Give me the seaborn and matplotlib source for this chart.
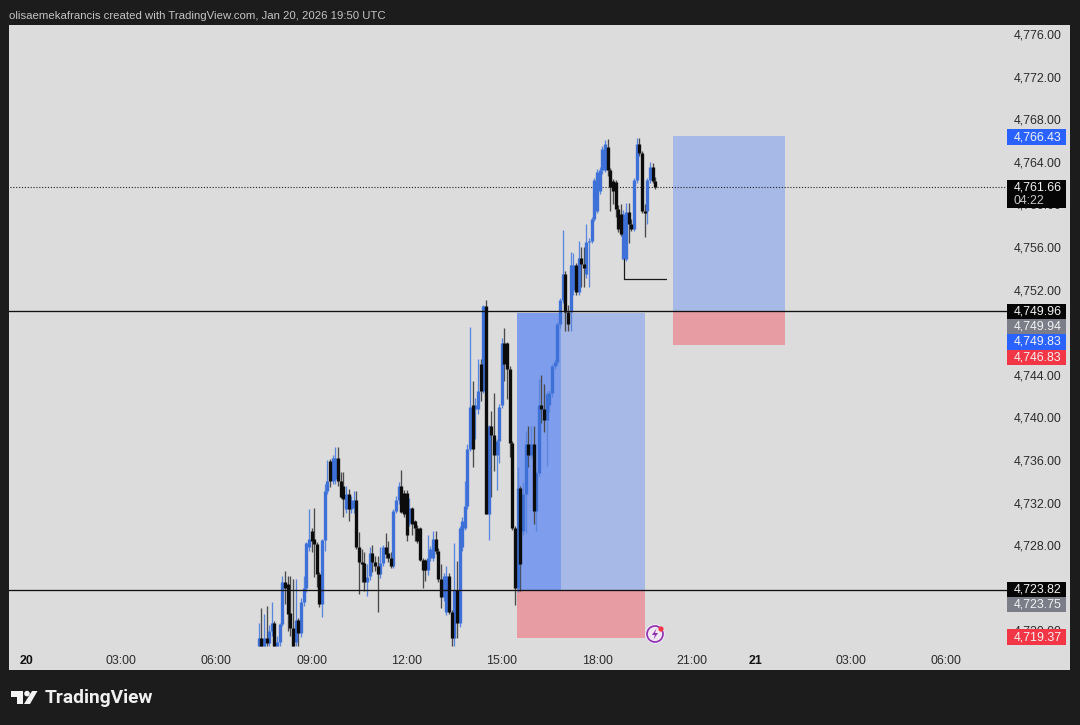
import numpy as np
import pandas as pd
import seaborn as sns
from matplotlib import pyplot as plt
from matplotlib.patches import Circle, Polygon, Rectangle
from matplotlib.transforms import Affine2D

# 5 minute XAUUSD style bars, first bar 07:20
first_bar = '2026-01-20 07:20'
opens = [4718.5,4719.3,4718.5,4719.3,4718.8,4719.9,4720.7,4718.5,4718.9,4720.6,
         4724.5,4724.4,4721.6,4720.2,4718.9,4721.0,4719.8,4722.7,4724.0,4727.8,
         4729.3,4728.6,4728.1,4725.3,4722.5,4728.5,4733.1,4735.9,4734.0,4734.2,
         4736.2,4734.0,4733.6,4731.4,4732.8,4731.4,4731.5,4732.2,4727.8,4726.4,
         4726.3,4724.5,4725.1,4727.3,4726.4,4726.0,4725.3,4726.3,4727.8,4727.3,
         4726.8,4726.0,4731.2,4732.2,4733.6,4732.9,4732.9,4730.1,4731.5,4730.3,
         4729.6,4729.6,4726.6,4726.6,4725.7,4726.8,4726.8,4728.6,4727.5,4724.8,
         4723.1,4721.7,4725.1,4721.7,4719.3,4723.8,4720.7,4727.8,4729.6,4731.7,
         4737.0,4741.2,4740.8,4740.8,4745.0,4742.5,4750.5,4730.9,4739.2,4738.3,
         4736.5,4737.8,4741.2,4747.0,4747.0,4744.5,4737.6,4729.6,4724.0,4733.4,
         4729.3,4732.8,4737.5,4736.5,4737.5,4731.2,4734.8,4741.2,4740.8,4739.8,
         4741.2,4742.3,4744.8,4745.2,4748.8,4751.0,4753.5,4749.9,4749.9,4752.0,
         4754.3,4751.8,4755.0,4754.4,4753.5,4756.5,4756.6,4758.6,4759.4,4761.3,
         4763.2,4763.2,4765.4,4763.2,4762.2,4762.1,4759.6,4759.1,4754.9,4754.9,
         4759.3,4758.2,4757.7,4762.3,4765.7,4764.8,4759.4,4759.4,4762.3,4763.5,
         4762.2]
highs = [4720.7,4722.1,4721.5,4722.3,4720.5,4722.7,4720.9,4719.5,4720.7,4725.1,
         4725.6,4725.1,4725.1,4724.8,4724.8,4721.2,4723.0,4725.1,4728.3,4731.4,
         4729.6,4731.5,4728.3,4725.5,4728.6,4733.7,4736.0,4736.1,4736.5,4737.2,
         4737.2,4734.9,4734.9,4733.6,4733.3,4732.6,4733.1,4733.1,4729.2,4727.6,
         4727.4,4726.2,4727.8,4728.0,4727.0,4727.0,4727.8,4728.0,4729.1,4728.4,
         4727.4,4731.4,4732.6,4733.9,4735.1,4733.2,4733.2,4732.4,4731.6,4730.4,
         4729.9,4729.7,4726.8,4726.7,4729.0,4727.9,4729.3,4729.3,4727.7,4726.2,
         4725.4,4726.0,4725.4,4721.9,4728.2,4726.5,4729.8,4730.6,4734.0,4737.5,
         4748.5,4743.4,4741.8,4745.5,4745.5,4750.6,4751.0,4739.3,4740.6,4742.3,
         4738.0,4741.3,4747.5,4748.4,4747.1,4744.8,4737.8,4729.8,4735.3,4733.6,
         4733.9,4738.7,4739.2,4739.2,4739.2,4735.0,4743.6,4744.0,4743.1,4742.5,
         4742.6,4745.0,4745.5,4749.0,4751.2,4757.6,4753.7,4750.6,4755.5,4755.4,
         4754.5,4756.6,4756.0,4756.0,4758.2,4756.8,4758.8,4762.5,4763.3,4763.5,
         4765.5,4766.0,4766.1,4763.4,4762.4,4762.3,4759.9,4760.0,4759.5,4760.1,
         4760.1,4758.6,4762.5,4766.2,4766.2,4765.0,4760.0,4762.5,4764.0,4763.9,
         4762.6]
lows = [4718.5,4718.5,4718.5,4718.5,4718.5,4719.5,4718.5,4718.5,4718.5,4720.4,
        4722.5,4719.9,4719.5,4718.5,4718.5,4718.5,4719.4,4722.3,4723.6,4727.5,
        4727.4,4725.0,4724.1,4722.2,4721.3,4727.5,4732.8,4733.5,4733.7,4733.7,
        4733.6,4732.4,4730.6,4731.0,4730.3,4731.0,4731.0,4727.6,4723.4,4724.5,
        4723.7,4723.2,4724.7,4725.5,4725.6,4721.7,4724.9,4726.0,4726.8,4726.4,
        4725.9,4725.9,4731.0,4731.9,4731.0,4730.6,4728.4,4729.8,4729.0,4728.4,
        4728.2,4726.5,4724.0,4724.6,4725.2,4726.5,4726.5,4727.2,4724.5,4722.1,
        4722.8,4721.4,4721.5,4718.5,4718.5,4719.3,4720.3,4727.5,4729.4,4731.4,
        4736.8,4735.3,4738.0,4740.3,4741.5,4742.3,4730.9,4728.5,4732.5,4735.0,
        4733.2,4735.7,4740.9,4743.4,4741.7,4736.3,4729.4,4722.4,4723.6,4723.7,
        4729.0,4729.1,4735.3,4736.2,4730.0,4729.3,4734.5,4739.5,4738.6,4735.4,
        4740.5,4741.9,4744.5,4744.9,4748.4,4750.7,4748.1,4748.1,4748.1,4751.5,
        4751.5,4751.5,4752.2,4752.2,4753.1,4752.2,4756.4,4758.4,4759.2,4761.0,
        4762.9,4763.0,4762.7,4759.4,4760.0,4758.8,4757.4,4757.0,4754.9,4754.7,
        4756.4,4757.5,4757.5,4762.0,4764.5,4759.2,4756.9,4758.2,4762.0,4762.0,
        4761.4]
closes = [4719.3,4718.5,4719.3,4718.8,4719.9,4720.7,4718.5,4718.9,4720.6,4724.5,
          4724.0,4721.5,4720.2,4718.5,4721.0,4719.8,4722.7,4724.0,4728.2,4728.6,
          4728.4,4728.1,4725.3,4722.5,4728.5,4733.1,4734.0,4734.0,4736.2,4736.2,
          4734.0,4732.5,4732.3,4732.8,4731.4,4732.2,4732.2,4727.8,4726.4,4726.2,
          4724.5,4725.0,4727.3,4726.4,4726.0,4725.3,4726.3,4727.8,4727.2,4726.8,
          4726.0,4731.2,4732.2,4733.6,4731.1,4730.9,4729.0,4731.5,4730.0,4729.6,
          4728.4,4726.6,4725.7,4725.7,4726.8,4727.6,4728.6,4727.5,4724.8,4723.1,
          4725.1,4725.1,4721.7,4719.3,4723.8,4720.7,4729.6,4730.3,4731.7,4737.0,
          4741.0,4737.0,4741.2,4742.5,4742.5,4750.5,4730.9,4739.2,4738.3,4736.5,
          4737.8,4741.0,4747.0,4745.0,4744.5,4737.6,4729.6,4724.0,4733.4,4726.2,
          4732.8,4737.5,4736.5,4737.5,4731.2,4734.8,4741.2,4740.8,4739.8,4742.2,
          4742.3,4744.8,4745.2,4748.8,4751.0,4753.5,4749.9,4748.8,4754.3,4754.3,
          4751.8,4755.0,4754.4,4754.0,4756.5,4756.6,4758.6,4762.3,4763.0,4763.2,
          4765.2,4765.7,4763.2,4761.6,4761.3,4759.6,4757.7,4757.2,4759.1,4759.3,
          4758.2,4757.7,4762.3,4765.7,4764.8,4759.4,4759.2,4762.3,4763.5,4762.2,
          4761.66]

# 4748 and 4724 sit fully behind the price tags in the original, so they are left out
price_ticks = [4776, 4772, 4768, 4764, 4760, 4756, 4752, 4744, 4740,
               4736, 4732, 4728, 4720]
# session break 22:00-23:00 is skipped on the axis, so 21 Jan sits at hour 23
time_ticks = [0, 3, 6, 9, 12, 15, 18, 21, 23, 26, 29]
time_labels = ['20', '03:00', '06:00', '09:00', '12:00', '15:00', '18:00', '21:00', '21', '03:00', '06:00']

# long position tools: hours, then entry / target / stop
left_pos_hours = [15.48, 16.87, 19.51]
left_pos_prices = [4723.82, 4749.78, 4719.3]
right_pos_hours = [20.40, 23.93]
right_pos_prices = [4749.94, 4766.43, 4746.83]
level_prices = [4749.96, 4723.82]
last_price = 4761.66
low_mark_hours = [18.84, 18.84, 20.17]
low_mark_prices = [4754.9, 4753.0, 4753.0]

tag_values = ['4,766.43', '4,749.96', '4,749.94', '4,749.83', '4,746.83', '4,723.82', '4,723.75', '4,719.37']

bg_dark = '#1c1c1c'
bg_pane = '#dcdcdc'
up_col = '#3e71d8'
down_col = '#0c0c0c'
tag_blue, tag_black, tag_gray, tag_red = '#2962ff', '#050505', '#7b7e89', '#f23645'
tag_cols = [tag_blue, tag_black, tag_gray, tag_blue, tag_red, tag_black, tag_gray, tag_red]
tag_rows = [137, 311.5, 326.5, 342, 357.5, 589.5, 604.5, 637]

sns.set_theme(style='white')
plt.rcParams['font.family'] = ['Liberation Sans', 'DejaVu Sans']

times = pd.date_range(first_bar, periods=len(closes), freq='5min')
hours = times.hour + times.minute / 60
bars = pd.DataFrame({'hour': hours, 'open': opens, 'high': highs, 'low': lows, 'close': closes})
bars['bar'] = bars.index
bars['side'] = np.where(bars['close'] >= bars['open'], 'up', 'down')
wicks = bars.melt(id_vars=['bar', 'hour', 'side'], value_vars=['low', 'high'], value_name='price')
bodies = bars.melt(id_vars=['bar', 'hour', 'side'], value_vars=['open', 'close'], value_name='price')
side_pal = {'up': up_col, 'down': down_col}
wick_pal = {'up': '#5a86df', 'down': '#4a4a4a'}

fig = plt.figure(figsize=(10.8, 7.25), dpi=100, facecolor=bg_dark)
ax = fig.add_axes([9 / 1080, 1 - 670 / 725, 1061 / 1080, 645 / 725], facecolor=bg_pane)

# position boxes under the candles
ax.add_patch(Rectangle((left_pos_hours[0], left_pos_prices[0]), left_pos_hours[2] - left_pos_hours[0],
                       left_pos_prices[1] - left_pos_prices[0], color='#a7b9e6', lw=0, zorder=1))
ax.add_patch(Rectangle((left_pos_hours[0], left_pos_prices[0]), left_pos_hours[1] - left_pos_hours[0],
                       left_pos_prices[1] - left_pos_prices[0], color='#7e9ded', lw=0, zorder=1.1))
ax.add_patch(Rectangle((left_pos_hours[0], left_pos_prices[2]), left_pos_hours[2] - left_pos_hours[0],
                       left_pos_prices[0] - left_pos_prices[2], color='#e79ca4', lw=0, zorder=1))
ax.add_patch(Rectangle((right_pos_hours[0], right_pos_prices[0]), right_pos_hours[1] - right_pos_hours[0],
                       right_pos_prices[1] - right_pos_prices[0], color='#a7b9e6', lw=0, zorder=1))
ax.add_patch(Rectangle((right_pos_hours[0], right_pos_prices[2]), right_pos_hours[1] - right_pos_hours[0],
                       right_pos_prices[0] - right_pos_prices[2], color='#e79ca4', lw=0, zorder=1))

sns.lineplot(data=wicks, x='hour', y='price', units='bar', hue='side', palette=wick_pal, estimator=None,
             sort=False, legend=False, lw=0.95, solid_capstyle='butt', zorder=3, ax=ax)
sns.lineplot(data=bodies, x='hour', y='price', units='bar', hue='side', palette=side_pal, estimator=None,
             sort=False, legend=False, lw=2.4, solid_capstyle='butt', zorder=3.1, ax=ax)

for lvl in level_prices:
    ax.plot([-0.6, 30.93], [lvl, lvl], color='#111111', lw=0.95, zorder=4)
ax.plot([-0.6, 30.93], [last_price, last_price], color='#222222', lw=0.8, ls=(0, (1, 1.6)), zorder=2)
ax.plot(low_mark_hours, low_mark_prices, color='#1a1a1a', lw=0.9, zorder=4)

ax.set_xlim(-0.536, 32.91)
ax.set_ylim(4716.28, 4776.845)
ax.set_xlabel('')
ax.set_ylabel('')
ax.yaxis.tick_right()
ax.set_yticks(price_ticks)
ax.set_yticklabels([f'{v:,.2f}' for v in price_ticks])
ax.set_xticks(time_ticks)
ax.set_xticklabels(time_labels)
ax.tick_params(axis='y', length=0, pad=-40.5, labelsize=8.9, labelcolor='#2b2b2b')
ax.tick_params(axis='x', length=0, pad=-10.5, labelsize=8.9, labelcolor='#2b2b2b')
for lab in ax.get_xticklabels():
    if lab.get_text() in ('20', '21'):
        lab.set_fontweight('bold')
        lab.set_color('#111111')
for sp in ax.spines.values():
    sp.set_visible(False)

# everything outside the data scales is placed in image pixels
px = Affine2D().scale(1, -1).translate(0, 725)

for val, col, row in zip(tag_values, tag_cols, tag_rows):
    fig.add_artist(Rectangle((1007, row - 7.8), 59, 15.6, color=col, lw=0, transform=px, zorder=5))
    fig.text(1014, row, val, color='#f2f2f2', fontsize=8.9, va='center', ha='left', zorder=6, transform=px)

fig.add_artist(Rectangle((1007, 180), 59, 28, color=tag_black, lw=0, transform=px, zorder=5))
fig.text(1014, 187, '4,761.66', color='#f2f2f2', fontsize=8.9, va='center', ha='left', zorder=6, transform=px)
fig.text(1014, 200.5, '04:22', color='#c9c9c9', fontsize=8.9, va='center', ha='left', zorder=6, transform=px)

# flash icon
fig.add_artist(Circle((655, 634), 10, color='#f0e6f4', lw=0, transform=px, zorder=5))
fig.add_artist(Circle((655, 634), 8, fc='none', ec='#8e2fb0', lw=1.2, transform=px, zorder=5))
fig.add_artist(Polygon([(656.5, 628.5), (652, 635), (655, 635), (653.5, 639.5), (658, 633), (655, 633)],
                       color='#8e2fb0', lw=0, transform=px, zorder=5))
fig.add_artist(Circle((661, 629), 2.6, color='#f23645', lw=0, transform=px, zorder=6))

fig.text(9, 16, 'olisaemekafrancis created with TradingView.com, Jan 20, 2026 19:50 UTC',
         color='#c4c4c4', fontsize=8.2, va='center', ha='left', transform=px)

# TradingView logo
fig.add_artist(Polygon([(11, 691), (23, 691), (23, 704), (17, 704), (17, 697), (11, 697)],
                       color='#f4f4f4', lw=0, transform=px))
fig.add_artist(Circle((27, 693.6), 2.8, color='#f4f4f4', lw=0, transform=px))
fig.add_artist(Polygon([(32, 691), (37.5, 691), (30, 704), (24, 704)], color='#f4f4f4', lw=0, transform=px))
fig.text(45, 698, 'TradingView', color='#f0f0f0', fontsize=13.8, fontweight='bold',
         family='Roboto', va='center', ha='left', transform=px)

fig.savefig('out.png', dpi=100, facecolor=fig.get_facecolor())
